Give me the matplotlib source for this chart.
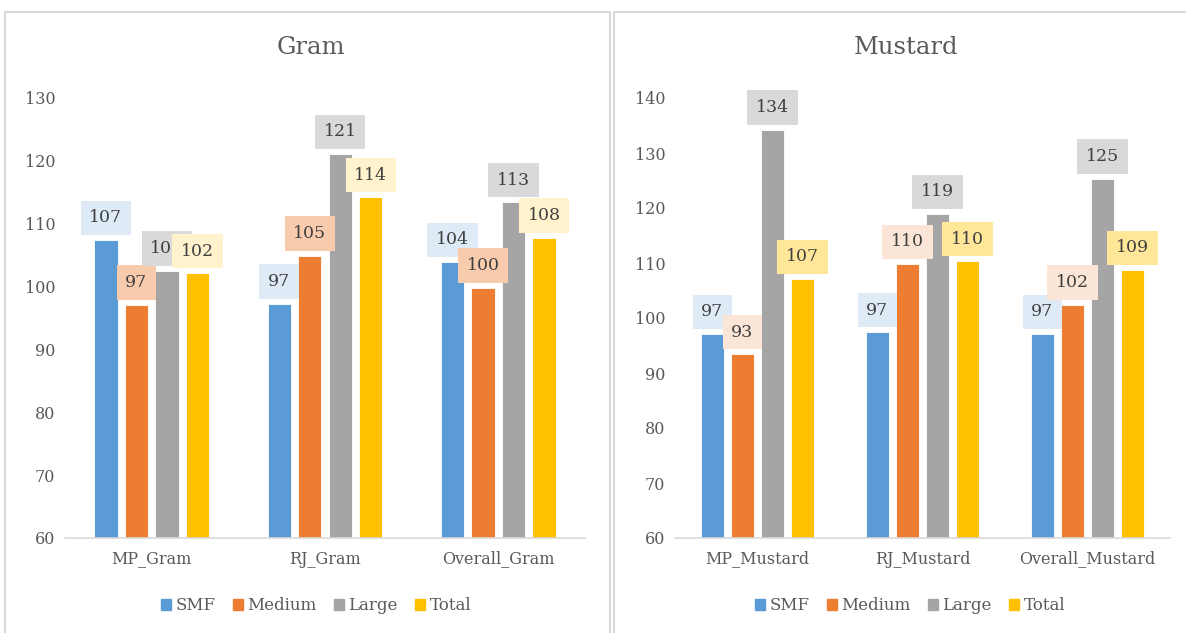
import matplotlib.pyplot as plt
import numpy as np
from matplotlib.patches import Rectangle, Patch

plt.rcParams['font.family'] = ['DejaVu Serif']

series = ['SMF', 'Medium', 'Large', 'Total']
bar_colors = ['#5B9BD5', '#ED7D31', '#A5A5A5', '#FFC000']

gram_cats = ['MP_Gram', 'RJ_Gram', 'Overall_Gram']
gram_smf = [107.4, 97.3, 103.9]
gram_medium = [97.1, 104.9, 99.8]
gram_large = [102.5, 121.1, 113.4]
gram_total = [102.1, 114.2, 107.8]

mustard_cats = ['MP_Mustard', 'RJ_Mustard', 'Overall_Mustard']
mustard_smf = [97.1, 97.4, 97.1]
mustard_medium = [93.4, 109.8, 102.4]
mustard_large = [134.2, 118.9, 125.3]
mustard_total = [107.1, 110.3, 108.7]

# label box fills per series, per panel
gram_box = ['#DEEBF7', '#F8CBAD', '#D9D9D9', '#FFF2CC']
mustard_box = ['#DEEBF7', '#FBE5D6', '#D9D9D9', '#FFE699']

fig = plt.figure(figsize=(11.86, 6.33), dpi=100)

# panel frames
fig.patches.append(Rectangle((5 / 1186, -0.05), 605 / 1186, 1.05 - 12 / 633,
                             transform=fig.transFigure, fill=False,
                             edgecolor='#D9D9D9', linewidth=1.5))
fig.patches.append(Rectangle((614 / 1186, -0.05), 600 / 1186, 1.05 - 12 / 633,
                             transform=fig.transFigure, fill=False,
                             edgecolor='#D9D9D9', linewidth=1.5))


def draw_panel(ax, cats, values, boxes, ylim, yticks, pitch, width):
    x = np.arange(len(cats))
    for i, vals in enumerate(values):
        pos = x + (i - 1.5) * pitch
        ax.bar(pos, np.array(vals) - ylim[0], width, bottom=ylim[0],
               color=bar_colors[i], edgecolor='white', linewidth=0.6, zorder=2)
        for px, v in zip(pos, vals):
            ax.annotate(f'{v:.0f}', (px, v), xytext=(0, 16), textcoords='offset points',
                        ha='center', va='center', fontsize=12.5, color='#404040',
                        bbox=dict(boxstyle='square,pad=0.5', fc=boxes[i], ec='none'),
                        zorder=3)
    ax.set_ylim(*ylim)
    ax.set_xlim(-0.5, len(cats) - 0.5)
    ax.set_yticks(yticks)
    ax.set_xticks(x)
    ax.set_xticklabels(cats)
    ax.tick_params(axis='both', length=0, labelsize=11.5, colors='#595959')
    ax.tick_params(axis='y', pad=7)
    ax.tick_params(axis='x', pad=9)
    for s in ['top', 'right', 'left']:
        ax.spines[s].set_visible(False)
    ax.spines['bottom'].set_color('#D9D9D9')
    ax.spines['bottom'].set_linewidth(1.2)


ax1 = fig.add_axes([65 / 1186, 1 - 538 / 633, 520 / 1186, 440 / 633])
draw_panel(ax1, gram_cats, [gram_smf, gram_medium, gram_large, gram_total],
           gram_box, (60, 130), range(60, 131, 10), 0.176, 0.135)

ax2 = fig.add_axes([675 / 1186, 1 - 538 / 633, 495 / 1186, 440 / 633])
draw_panel(ax2, mustard_cats, [mustard_smf, mustard_medium, mustard_large, mustard_total],
           mustard_box, (60, 140), range(60, 141, 10), 0.182, 0.14)

fig.text(311 / 1186, 1 - 47 / 633, 'Gram', ha='center', va='center', fontsize=17.5, color='#595959')
fig.text(906 / 1186, 1 - 47 / 633, 'Mustard', ha='center', va='center', fontsize=17.5, color='#595959')

handles = [Patch(color=c) for c in bar_colors]
for cx in [316 / 1186, 910 / 1186]:
    fig.legend(handles, series, loc='center', bbox_to_anchor=(cx, 1 - 606 / 633),
               ncol=4, frameon=False, fontsize=12, handlelength=0.6, handleheight=0.6,
               handletextpad=0.3, columnspacing=1.0, labelcolor='#595959')

fig.savefig('out.png', dpi=100)
